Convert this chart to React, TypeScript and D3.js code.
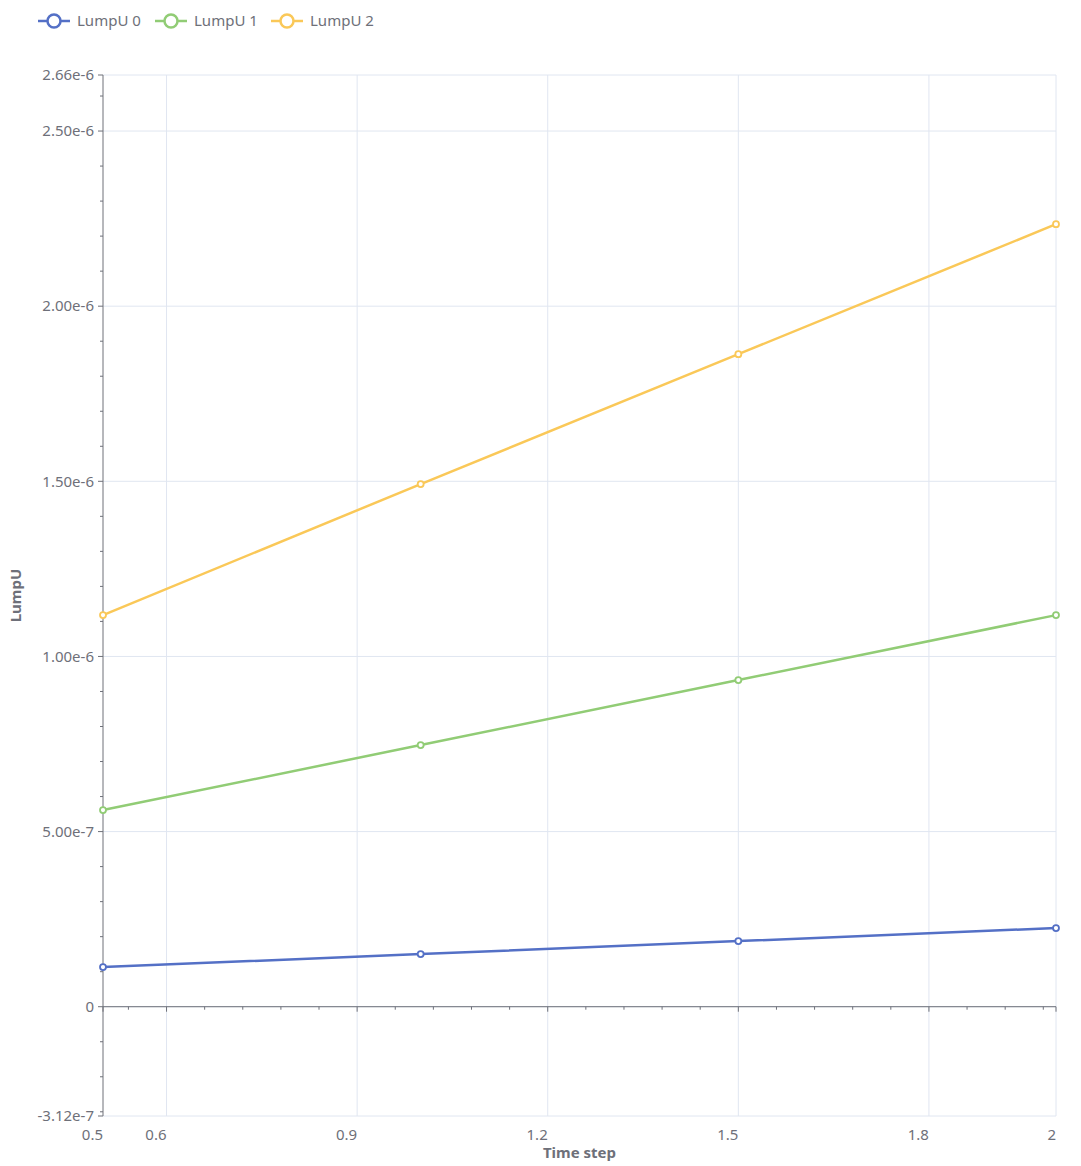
import React from "react";
import * as d3 from "d3";

const timeSteps = [0.5, 1.0, 1.5, 2.0];
const seriesNames = ["LumpU 0", "LumpU 1", "LumpU 2"];
const lumpU0 = [1.133e-7, 1.502e-7, 1.873e-7, 2.246e-7];
const lumpU1 = [5.615e-7, 7.47e-7, 9.326e-7, 1.118e-6];
const lumpU2 = [1.118e-6, 1.492e-6, 1.863e-6, 2.234e-6];
const seriesColors = ["#5470c6", "#91cc75", "#fac858"];
const xTickValues = [0.5, 0.6, 0.9, 1.2, 1.5, 1.8, 2.0];
const yTickValues = [-3.12e-7, 0, 5e-7, 1e-6, 1.5e-6, 2e-6, 2.5e-6, 2.66e-6];
const xDomain = [0.5, 2.0];
const yDomain = [-3.12e-7, 2.66e-6];

const allSeries = [lumpU0, lumpU1, lumpU2];

const W = 1081;
const H = 1166;
const left = 103;
const right = 1056;
const top = 75;
const bottom = 1116;
const axisColor = "#6E7079";
const gridColor = "#E0E6F1";
const font = "'Noto Sans', sans-serif";

export default function App() {
  const x = d3.scaleLinear().domain(xDomain).range([left, right]);
  const y = d3.scaleLinear().domain(yDomain).range([bottom, top]);
  const y0 = y(0);

  const xMinor: number[] = [];
  for (let i = 0; i <= 25; i++) {
    const v = +(0.48 + i * 0.06).toFixed(4);
    if (v > 0.5 && v < 2 && Math.abs(((v - 0.6) / 0.3) - Math.round((v - 0.6) / 0.3)) > 1e-6) xMinor.push(v);
  }
  const yMinor: number[] = [];
  for (let i = -3; i <= 26; i++) {
    if (i % 5 !== 0) yMinor.push(i * 1e-7);
  }

  const fmtY = (v: number) => (v === 0 ? "0" : v.toExponential(2));
  const fmtX = (v: number) => d3.format("")(+v.toFixed(2)).toString();

  const line = d3
    .line<number>()
    .x((_, i) => x(timeSteps[i]))
    .y((d) => y(d));

  const legendX = [38, 155, 271];

  return (
    <svg width={W} height={H} style={{ position: "absolute", left: 0, top: 0, background: "#fff" }}>
      <rect width={W} height={H} fill="#fff" />
      {/* grid */}
      {xTickValues.slice(1).map((v) => (
        <line key={"gx" + v} x1={x(v)} x2={x(v)} y1={top} y2={bottom} stroke={gridColor} strokeWidth={1} />
      ))}
      {yTickValues.map((v) => (
        <line key={"gy" + v} x1={left} x2={right} y1={y(v)} y2={y(v)} stroke={gridColor} strokeWidth={1} />
      ))}
      {/* y axis */}
      <line x1={left} x2={left} y1={top} y2={bottom} stroke={axisColor} strokeWidth={1} />
      {yTickValues.map((v) => (
        <line key={"yt" + v} x1={left - 5} x2={left} y1={y(v)} y2={y(v)} stroke={axisColor} />
      ))}
      {yMinor.map((v) => (
        <line key={"ym" + v} x1={left - 3} x2={left} y1={y(v)} y2={y(v)} stroke={axisColor} />
      ))}
      {yTickValues.map((v) => (
        <text key={"yl" + v} x={left - 9} y={y(v)} dy="0.35em" textAnchor="end" fontSize={15} fill={axisColor} fontFamily={font}>
          {fmtY(v)}
        </text>
      ))}
      {/* x axis on zero */}
      <line x1={left} x2={right} y1={y0} y2={y0} stroke={axisColor} strokeWidth={1} />
      {xTickValues.map((v) => (
        <line key={"xt" + v} x1={x(v)} x2={x(v)} y1={y0} y2={y0 + 5} stroke={axisColor} />
      ))}
      {xMinor.map((v) => (
        <line key={"xm" + v} x1={x(v)} x2={x(v)} y1={y0} y2={y0 + 3} stroke={axisColor} />
      ))}
      {xTickValues.map((v) => (
        <text key={"xl" + v} x={x(v)} y={bottom + 24} textAnchor="end" fontSize={15} fill={axisColor} fontFamily={font}>
          {fmtX(v)}
        </text>
      ))}
      {/* axis names */}
      <text x={(left + right) / 2} y={1158} textAnchor="middle" fontSize={15} fontWeight="bold" fill={axisColor} fontFamily={font}>
        Time step
      </text>
      <text
        transform={`translate(21, ${(top + bottom) / 2}) rotate(-90)`}
        textAnchor="middle"
        fontSize={15}
        fontWeight="bold"
        fill={axisColor}
        fontFamily={font}
      >
        LumpU
      </text>
      {/* series */}
      {allSeries.map((s, si) => (
        <g key={"s" + si}>
          <path d={line(s) || ""} fill="none" stroke={seriesColors[si]} strokeWidth={2.5} strokeLinejoin="round" />
          {s.map((v, i) => (
            <circle key={i} cx={x(timeSteps[i])} cy={y(v)} r={3} fill="#fff" stroke={seriesColors[si]} strokeWidth={1.8} />
          ))}
        </g>
      ))}
      {/* legend */}
      {seriesNames.map((n, i) => (
        <g key={"lg" + i} transform={`translate(${legendX[i]}, 21)`}>
          <line x1={0} x2={32} y1={0} y2={0} stroke={seriesColors[i]} strokeWidth={2.5} />
          <circle cx={16} cy={0} r={6.5} fill="#fff" stroke={seriesColors[i]} strokeWidth={2.5} />
          <text x={39} y={0} dy="0.35em" fontSize={15} fill={axisColor} fontFamily={font}>
            {n}
          </text>
        </g>
      ))}
    </svg>
  );
}
